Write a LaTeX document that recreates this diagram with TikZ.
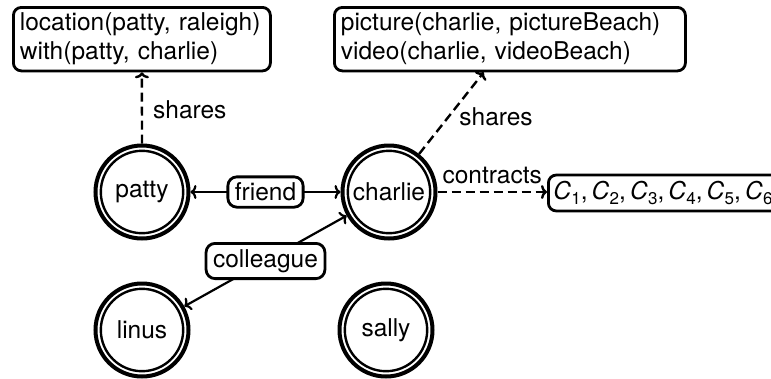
\documentclass[tikz,border=0pt]{standalone}
\usepackage{fontspec}
\setmainfont{TeX Gyre Heros}
\usetikzlibrary{arrows.meta}
% italic C with a lowered upright index
\newcommand\Csub[1]{\textit{C}\kern0.3pt\raisebox{-5pt}{\fontsize{17}{17}\selectfont #1}}

\begin{document}
\begin{tikzpicture}[x=1pt,y=-1pt,
  every node/.style={font=\fontsize{24.5}{29}\selectfont},
  agent/.style={circle, draw, line width=4pt, minimum size=93pt, inner sep=0pt, outer sep=2pt,
    path picture={\draw[line width=2.4pt] (path picture bounding box.center) circle (41.2pt);}},
  fact/.style={draw, line width=2.8pt, rounded corners=8pt, align=left,
    inner xsep=6.5pt, inner ysep=0pt, outer sep=1.4pt},
  tag/.style={draw, fill=white, line width=2.8pt, rounded corners=9pt,
    inner xsep=7pt, inner ysep=6pt},
  link/.style={line width=2.2pt, {To[length=6pt,width=14pt]}-{To[length=6pt,width=14pt]}},
  share/.style={line width=2.4pt, dash pattern=on 9pt off 5pt, -{To[length=6pt,width=14pt]}},
  lbl/.style={inner sep=0pt}]

\useasboundingbox (0,0) rectangle (771,378);
\clip (0,0) rectangle (771,378);

% agents
\node[agent] (patty)   at (142,192) {patty};
\node[agent] (charlie) at (389,192) {charlie};
\node[agent] (linus)   at (142,330) {linus};
\node[agent] (sally)   at (386,330) {sally};

% shared facts and contracts
\node[fact, anchor=north west, text width=244pt, minimum height=63.5pt] (fact1) at (12,6)
  {location(patty, raleigh)\\with(patty, charlie)};
\node[fact, anchor=north west, text width=338pt, minimum height=63.5pt] (fact2) at (333,6)
  {picture(charlie, pictureBeach)\\video(charlie, videoBeach)};
\node[fact, anchor=west, minimum height=36pt, text width=250pt, inner xsep=5pt] (cbox) at (547,193)
  {\Csub{1},\,\Csub{2},\,\Csub{3},\,\Csub{4},\,\Csub{5},\,\Csub{6}};

% relations
\draw[link] (patty) -- node[tag] {friend} (charlie);
\draw[link] (charlie) -- node[tag] {colleague} (linus);

% sharing and contracts
\draw[share] (patty) -- node[lbl, pos=0.47, right=10pt] {shares} (fact1);
\draw[share] (charlie) -- node[lbl, pos=0.45, right=10pt] {shares} (fact2);
\draw[share] (charlie) -- node[lbl, above=7pt] {contracts} (cbox.west |- charlie);
\end{tikzpicture}
\end{document}
